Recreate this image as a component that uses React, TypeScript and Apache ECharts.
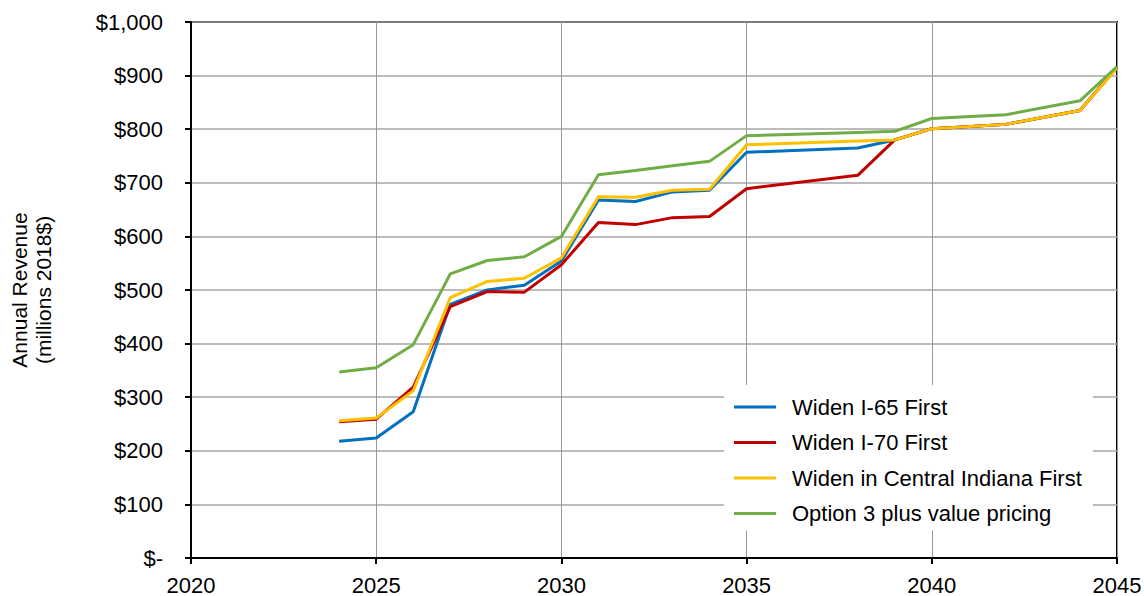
import React, { useEffect, useRef } from "react";
import * as echarts from "echarts";

const years = [2024, 2025, 2026, 2027, 2028, 2029, 2030, 2031, 2032, 2033, 2034, 2035, 2038, 2039, 2040, 2042, 2044, 2045];
const widenI65 = [218, 224, 273, 473, 500, 509, 554, 668, 665, 683, 686, 757, 765, 780, 801, 809, 835, 915];
const widenI70 = [254, 259, 319, 469, 497, 496, 547, 626, 622, 635, 637, 689, 714, 780, 801, 809, 835, 915];
const widenCentral = [256, 261, 312, 486, 516, 522, 560, 674, 673, 686, 688, 771, 778, 780, 801, 809, 835, 914];
const option3Pricing = [347, 355, 398, 530, 555, 562, 600, 715, 723, 732, 740, 788, 794, 796, 820, 827, 853, 917];

const seriesNames = [
  "Widen I-65 First",
  "Widen I-70 First",
  "Widen in Central Indiana First",
  "Option 3 plus value pricing",
];
const seriesColors = ["#0070C0", "#C00000", "#FFC000", "#70AD47"];
const seriesValues = [widenI65, widenI70, widenCentral, option3Pricing];

const FONT = "'Liberation Sans', Arial, sans-serif";

export default function App() {
  const ref = useRef<HTMLDivElement>(null);
  useEffect(() => {
    if (!ref.current) return;
    const chart = echarts.init(ref.current, undefined, { renderer: "svg" });
    chart.setOption({
      animation: false,
      backgroundColor: "#fff",
      textStyle: { fontFamily: FONT },
      grid: {
        left: 191,
        right: 27,
        top: 22,
        bottom: 38,
        containLabel: false,
        outerBoundsMode: "none",
        show: true,
        borderColor: "#000",
        borderWidth: 2,
        backgroundColor: "transparent",
      },
      xAxis: {
        type: "value",
        min: 2020,
        max: 2045,
        interval: 5,
        axisLine: { show: true, lineStyle: { color: "#000", width: 2 } },
        axisTick: { show: true, length: 6, lineStyle: { color: "#000", width: 2 } },
        axisLabel: {
          color: "#000",
          fontSize: 22,
          fontFamily: FONT,
          margin: 16,
          showMinLabel: true,
          showMaxLabel: true,
          formatter: (v: number) => String(v),
        },
        splitLine: { show: true, lineStyle: { color: "#999", width: 1 } },
      },
      yAxis: {
        type: "value",
        min: 0,
        max: 1000,
        interval: 100,
        name: "Annual Revenue\n(millions 2018$)",
        nameLocation: "middle",
        nameRotate: 90,
        nameGap: 136,
        nameTextStyle: { color: "#000", fontSize: 21, fontFamily: FONT, lineHeight: 24 },
        axisLine: { show: true, lineStyle: { color: "#000", width: 2 } },
        axisTick: { show: true, length: 6, lineStyle: { color: "#000", width: 2 } },
        axisLabel: {
          color: "#000",
          fontSize: 22,
          fontFamily: FONT,
          margin: 28,
          formatter: (v: number) => (v === 0 ? "$-" : "$" + v.toLocaleString("en-US")),
        },
        splitLine: { show: true, lineStyle: { color: "#a6a6a6", width: 1.5 } },
      },
      legend: {
        orient: "vertical",
        left: 724,
        top: 385,
        padding: [11, 11, 6, 10],
        backgroundColor: "#fff",
        itemWidth: 42,
        itemHeight: 3,
        itemGap: 13.5,
        icon: "rect",
        textStyle: { color: "#000", fontSize: 22, fontFamily: FONT, padding: [0, 0, 0, 11] },
        data: seriesNames,
      },
      series: seriesNames.map((name, i) => ({
        name,
        type: "line",
        data: years.map((y, j) => [y, seriesValues[i][j]]),
        showSymbol: false,
        symbol: "none",
        lineStyle: { color: seriesColors[i], width: 3 },
        itemStyle: { color: seriesColors[i] },
        z: 2 + i,
      })),
    });
    return () => chart.dispose();
  }, []);
  return (
    <div
      ref={ref}
      style={{ position: "fixed", left: 0, top: 0, width: 1144, height: 596, background: "#fff" }}
    />
  );
}
